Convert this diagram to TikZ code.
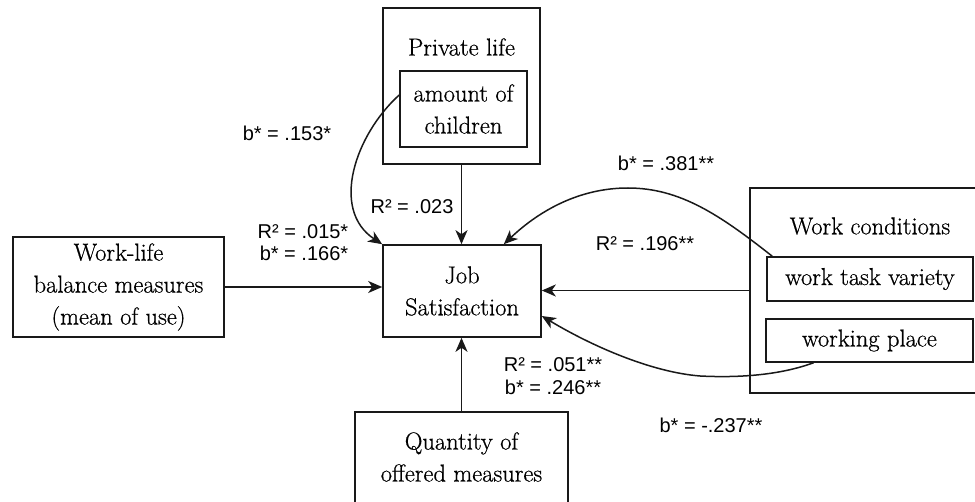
\documentclass[tikz,border=0pt]{standalone}
\usepackage{fontspec}
\newfontfamily\labfont{Liberation Sans}
\newfontfamily\boxfont{Latin Modern Roman}[FakeBold=0.6]
\usetikzlibrary{arrows.meta}
\begin{document}
\begin{tikzpicture}[x=1pt,y=-1pt,
  box/.style={draw=black!90, line width=1.6pt, inner sep=0pt},
  btext/.style={font=\boxfont\fontsize{24.5}{32}\selectfont, align=center, text=black},
  lab/.style={font=\labfont\fontsize{20}{22}\selectfont, text=black, inner sep=0pt},
  arr/.style={draw=black!90, line width=1.5pt, -{Stealth[length=14pt,width=12pt,inset=4pt]}}]
\useasboundingbox (0,0) rectangle (975,502);
\clip (0,0) rectangle (975,502);

% boxes
\node[box, btext, minimum width=158pt, minimum height=92pt] (js) at (462,291) {Job\\Satisfaction};
\node[box, minimum width=157pt, minimum height=156pt] (pl) at (461.5,86) {};
\node[btext] (plt) at (461.5,47) {Private life};
\node[box, btext, minimum width=127pt, minimum height=76pt] (ch) at (463.5,109) {amount of\\children};
\node[box, btext, minimum width=211pt, minimum height=100pt] (wl) at (118.5,287) {Work-life\\balance measures\\(mean of use)};
\node[box, minimum width=235pt, minimum height=205pt] (wc) at (867.5,290.5) {};
\node[btext] (wct) at (870,226) {Work conditions};
\node[box, btext, minimum width=206pt, minimum height=44pt] (wt) at (870,279) {work task variety};
\node[box, btext, minimum width=207pt, minimum height=43pt] (wp) at (869.5,340.5) {working place};
\node[box, minimum width=213pt, minimum height=98pt] (qm) at (461.5,461) {};
\node[btext] (qmt) at (461.5,457) {Quantity of\\offered measures};

% straight connectors
\draw[arr] (wl.east) -- (wl.east -| js.west);
\draw[arr] (pl.south) -- (pl.south |- js.north);
\draw[arr] (qm.north) -- (qm.north |- js.south);
\draw[arr] (wc.west) -- (wc.west -| js.east);

% curved connectors
\draw[arr] ([yshift=14pt]ch.west) .. controls (355,135) and (330,210) .. (js.north west);
\draw[arr] ([xshift=6pt]wt.north west) .. controls (720,215) and (680,188) .. (628,188)
  .. controls (580,188) and (540,210) .. ([xshift=-38pt]js.north east);
\draw[arr] ([xshift=-56pt]wp.south) .. controls (780,375) and (740,378) .. (700,376)
  .. controls (650,372) and (590,345) .. ([yshift=-25pt]js.east);

% labels
\node[lab] (l1) at (287,133) {b* = .153*};
\node[lab] (l2) at (412,207) {R² = .023};
\node[lab] (l3) at (303,232) {R² = .015*};
\node[lab] (l4) at (304,253) {b* = .166*};
\node[lab] (l5) at (666,163) {b* = .381**};
\node[lab] (l6) at (645,244) {R² = .196**};
\node[lab] (l7) at (553,365) {R² = .051**};
\node[lab] (l8) at (553,387) {b* = .246**};
\node[lab] (l9) at (711,425) {b* = -.237**};
\end{tikzpicture}
\end{document}
